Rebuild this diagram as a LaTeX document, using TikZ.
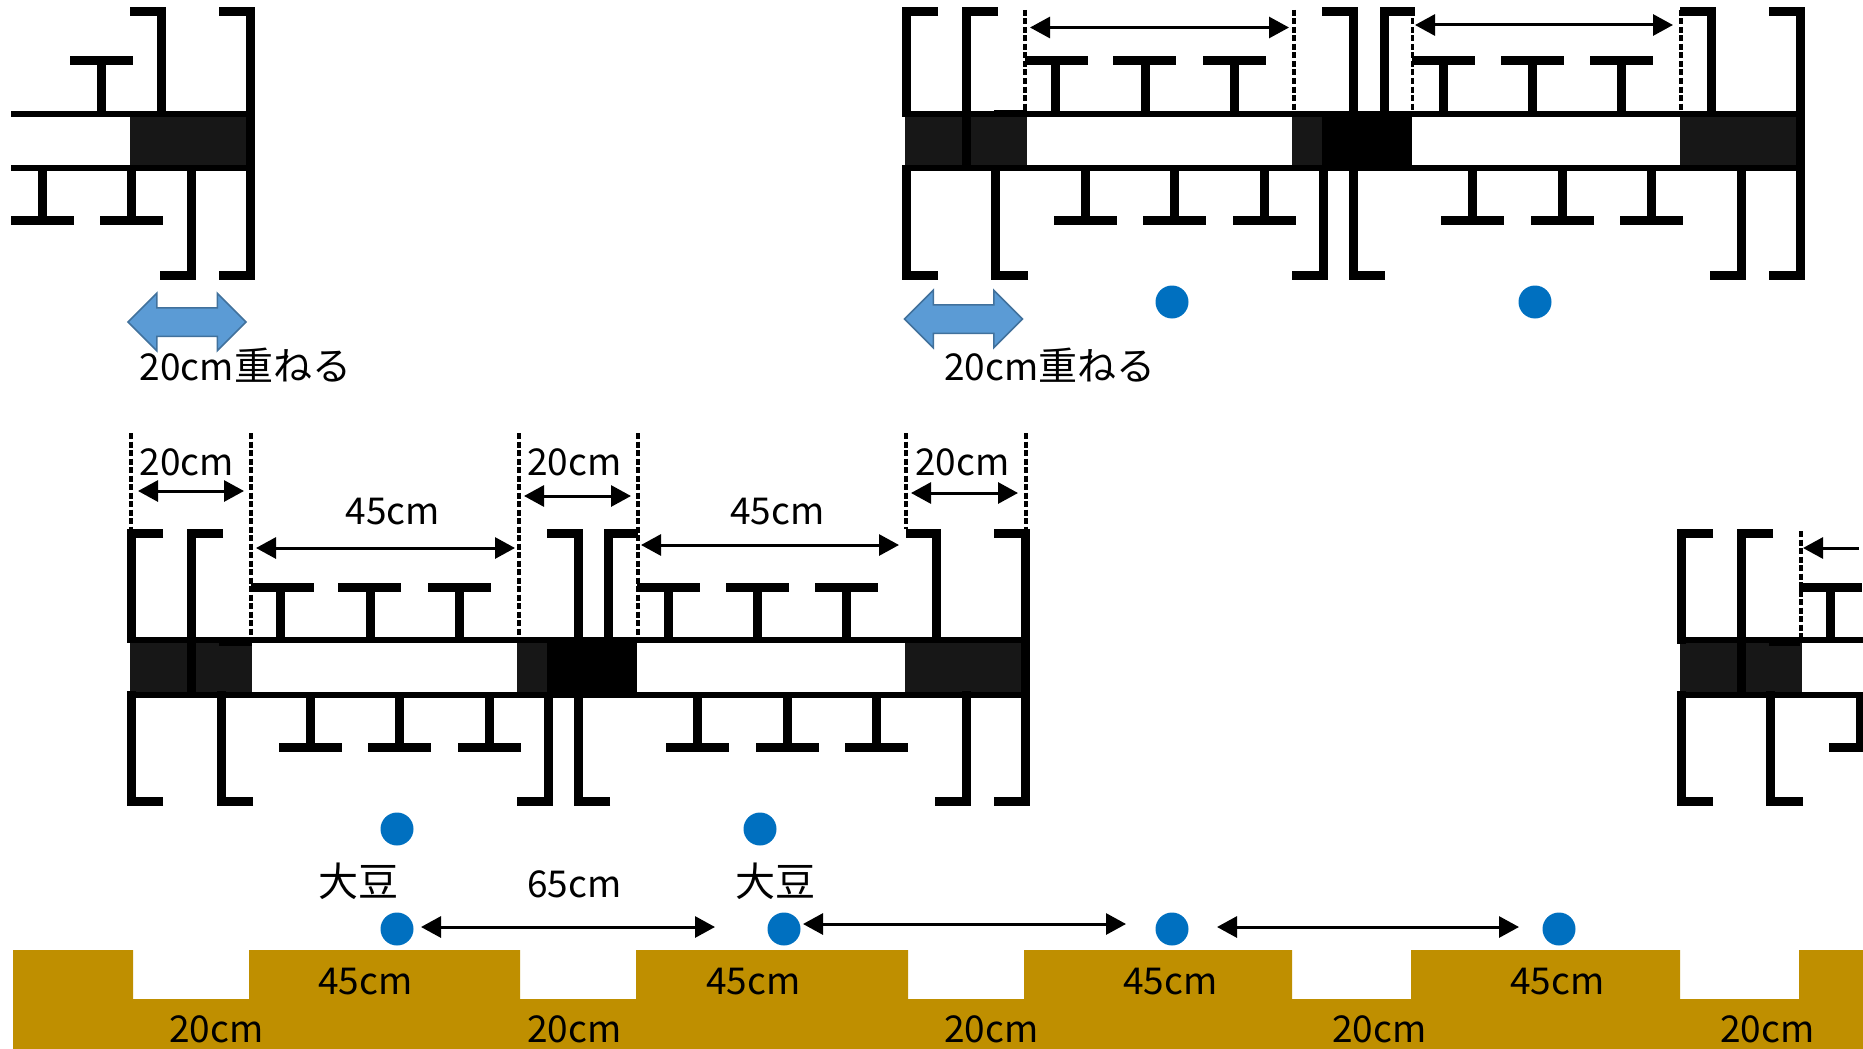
\documentclass[tikz,border=0pt]{standalone}
\usepackage{fontspec}
\setmainfont{Noto Sans CJK JP}
\usetikzlibrary{arrows.meta,shapes.arrows}
\definecolor{overlapblue}{HTML}{5B9BD5}
\definecolor{overlapedge}{HTML}{41719C}
\definecolor{beanblue}{HTML}{0070C0}
\definecolor{soilbrown}{HTML}{BF8F00}
\definecolor{mulchdark}{HTML}{171717}
\begin{document}
\begin{tikzpicture}[
  x=1pt, y=-1pt,
  beam/.style={line width=9pt},
  edgeline/.style={line width=6pt},
  guide/.style={line width=3.5pt, dash pattern=on 6pt off 2.5pt},
  dimarrow/.style={line width=3pt, {Triangle[length=20pt,width=21pt]}-{Triangle[length=20pt,width=21pt]}},
  lefttip/.style={line width=3pt, {Triangle[length=20pt,width=21pt]}-},
  label/.style={inner sep=0pt, xshift=1.5pt, yshift=-1.5pt, font=\fontsize{37pt}{40pt}\selectfont},
  cjklabel/.style={label, font=\fontsize{40pt}{42pt}\selectfont},
  bean/.style={circle, fill=beanblue, minimum size=33pt, inner sep=0pt},
  overlap/.style={shape=double arrow, draw=overlapedge, line width=1.5pt, fill=overlapblue,
    minimum height=118pt, minimum width=57pt, double arrow head extend=14.5pt, inner sep=13.5pt}
]
  \useasboundingbox (0,0) rectangle (1863,1049);
  \clip (0,0) rectangle (1863,1049);

  \fill[soilbrown] (13,950) -- (133,950) -- (133,999) -- (249,999) -- (249,950) -- (520,950) -- (520,999)
    -- (636,999) -- (636,950) -- (908,950) -- (908,999) -- (1024,999) -- (1024,950) -- (1292,950) -- (1292,999)
    -- (1411,999) -- (1411,950) -- (1680,950) -- (1680,999) -- (1799,999) -- (1799,950) -- (1863,950)
    -- (1863,1049) -- (13,1049) -- cycle;

  \fill[mulchdark] (130,117) rectangle (246,165);
  \fill[mulchdark] (905,117) rectangle (1027,165);
  \fill[mulchdark] (1292,117) rectangle (1322,165);
  \fill[mulchdark] (1680,117) rectangle (1796,165);
  \fill[black] (1322,111) rectangle (1412,171);
  \fill[black] (994,110) rectangle (1027,117);
  \fill[mulchdark] (130,643) rectangle (252,692);
  \fill[mulchdark] (517,643) rectangle (547,692);
  \fill[mulchdark] (905,643) rectangle (1021,692);
  \fill[mulchdark] (1680,643) rectangle (1802,692);
  \fill[black] (547,637) rectangle (637,698);
  \fill[black] (219,637) rectangle (252,646);
  \fill[black] (1769,637) rectangle (1800,646);

  \draw[edgeline] (11,114) -- (255,114);
  \draw[edgeline] (11,168) -- (255,168);
  \draw[edgeline] (902,114) -- (1805,114);
  \draw[edgeline] (902,168) -- (1805,168);
  \draw[edgeline] (127,640) -- (1030,640);
  \draw[edgeline] (127,695) -- (1030,695);
  \draw[edgeline] (1677,640) -- (1863,640);
  \draw[edgeline] (1677,695) -- (1863,695);

  \foreach \xl/\xm in {70/101.5, 1025/1055.5, 1113/1145.5, 1203/1234.5, 1412/1443.5, 1501/1532.5, 1590/1621.5} {
    \draw[beam] (\xl,60.5) -- ({\xl+63},60.5) (\xm,60.5) -- (\xm,111);
  }
  \foreach \xl/\xm in {11/42.5, 100/131.5, 1054/1085.5, 1143/1174.5, 1233/1264.5, 1441/1472.5, 1531/1562.5, 1620/1651.5} {
    \draw[beam] (\xl,220.5) -- ({\xl+63},220.5) (\xm,220.5) -- (\xm,171);
  }
  \foreach \xl/\xm in {251/280.5, 338/370.5, 428/459.5, 637/668.5, 726/757.5, 815/846.5, 1799/1830.5} {
    \draw[beam] (\xl,587.5) -- ({\xl+63},587.5) (\xm,587.5) -- (\xm,637);
  }
  \foreach \xl/\xm in {279/310.5, 368/399.5, 458/489.5, 666/697.5, 756/787.5, 845/876.5, 1829/1860.5} {
    \draw[beam] (\xl,747.5) -- ({\xl+63},747.5) (\xm,747.5) -- (\xm,698);
  }

  \foreach \xa/\xb/\yb in {130/161.5/111, 938/906.5/117, 998/966.5/165, 1322/1353.5/111, 1415/1384.5/111, 1680/1711.5/111} {
    \draw[beam] (\xa,11.5) -- (\xb,11.5) -- (\xb,\yb);
  }
  \foreach \xa/\xb/\yb in {160/191.5/171, 938/906.5/165, 1028/995.5/171, 1292/1323.5/171, 1385/1353.5/171, 1710/1741.5/171} {
    \draw[beam] (\xa,275.5) -- (\xb,275.5) -- (\xb,\yb);
  }
  \foreach \xa/\xb/\yb in {163/131.5/643, 223/191.5/692, 547/578.5/637, 638/608.5/637, 906/936.5/637, 1713/1681.5/644, 1773/1741.5/692} {
    \draw[beam] (\xa,533.5) -- (\xb,533.5) -- (\xb,\yb);
  }
  \foreach \xa/\xb/\yb in {163/131.5/691, 253/221.5/691, 517/548.5/698, 610/578.5/698, 935/966.5/691, 1713/1681.5/691, 1803/1770.5/691} {
    \draw[beam] (\xa,801.5) -- (\xb,801.5) -- (\xb,\yb);
  }
  \draw[beam] (219,11.5) -- (250.5,11.5) -- (250.5,275.5) -- (219,275.5);
  \draw[beam] (1769,11.5) -- (1800.5,11.5) -- (1800.5,275.5) -- (1769,275.5);
  \draw[beam] (994,533.5) -- (1025.5,533.5) -- (1025.5,801.5) -- (994,801.5);

  \foreach \id/\xx/\ya/\yb in {a/1025/10/111, b/1294/10/111, c/1412.5/10/111, d/1681/10/111,
    e/131/433/530, f/251/433/637, g/519/433/637, h/638/433/637, i/906/433/529, j/1026/433/529, k/1801/531/637} {
    \coordinate (guide\id top) at (\xx,\ya);
    \coordinate (guide\id end) at (\xx,\yb);
    \draw[guide] (guide\id top) -- (guide\id end);
  }

  \foreach \id/\xa/\xb/\yy in {a/1030/1289/27.5, b/1415/1673/25, c/138/244/491, d/256/515/548, e/524/631/496,
    f/641/899/545, g/911/1018/493, h/421/715/927, i/803/1126/924, j/1217/1519/927} {
    \coordinate (dim\id l) at (\xa,\yy);
    \coordinate (dim\id r) at (\xb,\yy);
    \draw[dimarrow] (dim\id l) -- (dim\id r);
  }
  \coordinate (dimkl) at (1803,548);
  \coordinate (dimkr) at (1859,548);
  \draw[lefttip] (dimkl) -- (dimkr);

  \node[overlap] (overlapleft) at (187,322) {};
  \node[overlap] (overlapright) at (963.5,319) {};
  \node[label] (overlaptextleft) at (244,364) {20cm{\fontsize{39pt}{42pt}\selectfont 重ねる}};
  \node[label] (overlaptextright) at (1048.5,364) {20cm{\fontsize{39pt}{42pt}\selectfont 重ねる}};

  \node[bean] (beantopa) at (1172,302) {};
  \node[bean] (beantopb) at (1535,302) {};
  \node[bean] (beanmida) at (397,829) {};
  \node[bean] (beanmidb) at (760,829) {};
  \node[bean] (beanlowa) at (397,929) {};
  \node[bean] (beanlowb) at (784,929) {};
  \node[bean] (beanlowc) at (1172,929) {};
  \node[bean] (beanlowd) at (1559,929) {};

  \node[label] (gapa) at (185.5,461) {20cm};
  \node[label] (gapb) at (573,461) {20cm};
  \node[label] (gapc) at (961,461) {20cm};
  \node[label] (beda) at (391.5,510) {45cm};
  \node[label] (bedb) at (776,510) {45cm};
  \node[cjklabel] (soybeana) at (356.5,880) {大豆};
  \node[cjklabel] (soybeanb) at (773.5,880) {大豆};
  \node[label] (rowgap) at (573,883) {65cm};

  \node[label] (ridgea) at (364,980) {45cm};
  \node[label] (ridgeb) at (752,980) {45cm};
  \node[label] (ridgec) at (1169,980) {45cm};
  \node[label] (ridged) at (1556,980) {45cm};
  \node[label] (furrowa) at (215,1028) {20cm};
  \node[label] (furrowb) at (573,1028) {20cm};
  \node[label] (furrowc) at (990,1028) {20cm};
  \node[label] (furrowd) at (1378,1028) {20cm};
  \node[label] (furrowe) at (1766,1028) {20cm};
\end{tikzpicture}
\end{document}
